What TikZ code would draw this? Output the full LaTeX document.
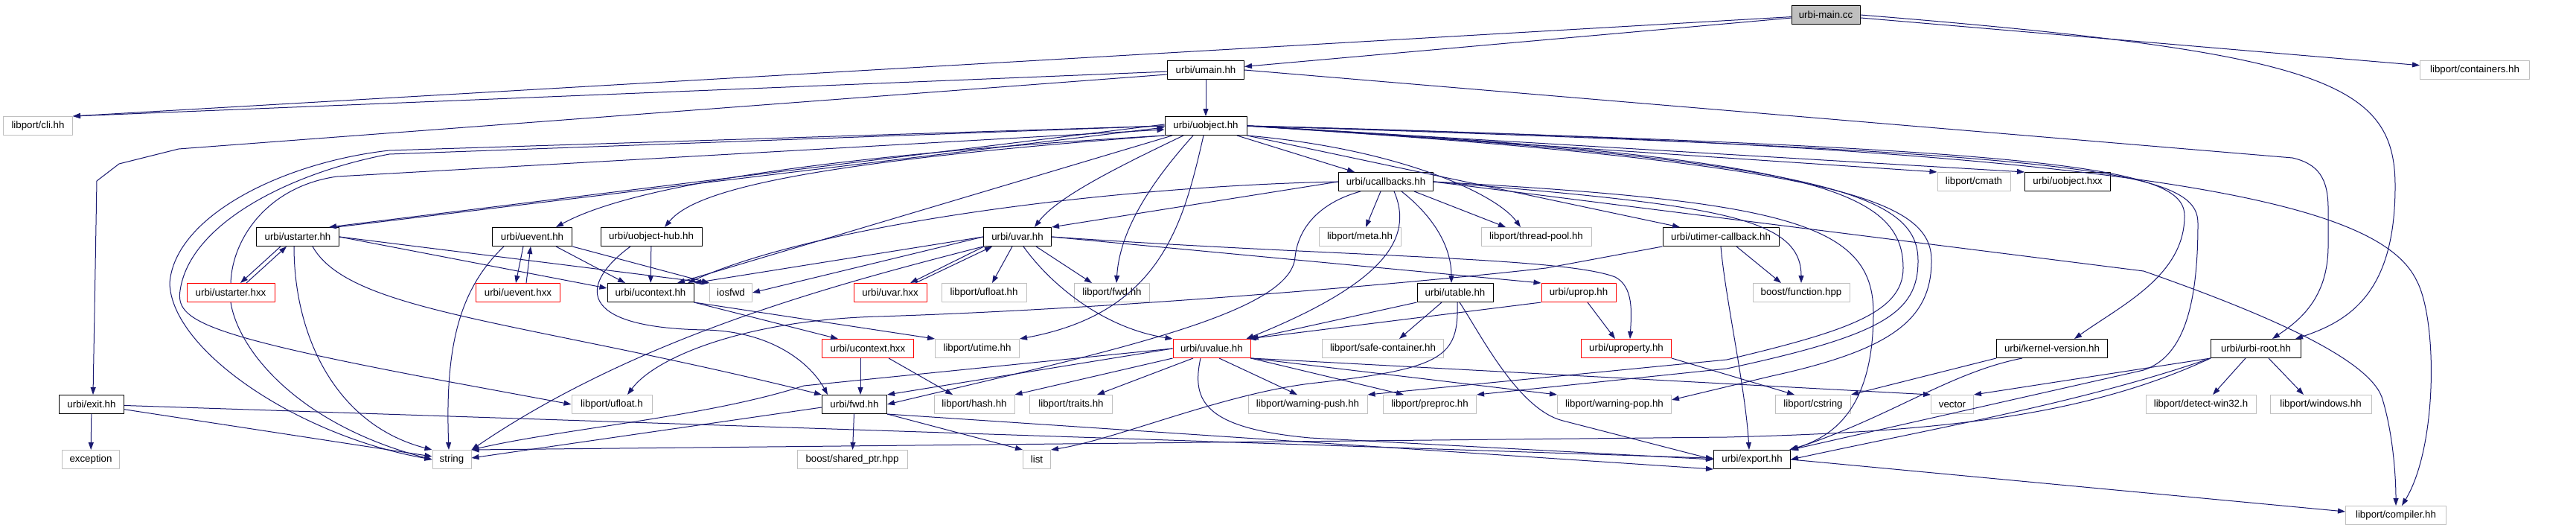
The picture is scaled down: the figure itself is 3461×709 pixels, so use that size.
\documentclass[tikz,border=0pt]{standalone}
\usepackage{fontspec}
\setmainfont{Liberation Sans}
\usetikzlibrary{arrows.meta,calc,positioning}
\definecolor{cEdge}{HTML}{191970}
\definecolor{cGray}{HTML}{BFBFBF}
\definecolor{cRed}{HTML}{FF0000}

\begin{document}
\begin{tikzpicture}[x=1pt,y=-1pt,>={Triangle[length=10pt,width=7pt]},
   line join=round,
   inc/.style={draw=black,line width=1pt,minimum height=25pt,inner sep=0pt,
     font=\fontsize{13.3pt}{16pt}\selectfont,text=black},
   sys/.style={inc,draw=cGray},
   bad/.style={inc,draw=cRed},
   cur/.style={inc,fill=cGray},
   dep/.style={cEdge,line width=1pt,->}]
  \useasboundingbox (0,0) rectangle (3461,709);
  \fill[white] (0,0) rectangle (3461,709);
  % rank 0-2
  \node[cur,minimum width=92pt] (main) at (2453,20) {urbi-main.cc};
  \node[inc,minimum width=103pt] (umain) at (1620,94) {urbi/umain.hh};
  \node[sys,minimum width=147pt] (containers) at (3325,94) {libport/containers.hh};
  \node[sys,minimum width=93pt] (cli) at (51,169) {libport/cli.hh};
  \node[inc,minimum width=110pt] (uobject) at (1620,169) {urbi/uobject.hh};
  % rank 3
  \node[inc,minimum width=127pt] (ucallbacks) at (1862,244) {urbi/ucallbacks.hh};
  \node[sys,minimum width=98pt] (cmath) at (2652,244) {libport/cmath};
  \node[inc,minimum width=115pt] (uobjhxx) at (2778,244) {urbi/uobject.hxx};
  % rank 4
  \node[inc,minimum width=111pt] (ustarter) at (400,318) {urbi/ustarter.hh};
  \node[inc,minimum width=107pt] (uevent) at (715,318) {urbi/uevent.hh};
  \node[inc,minimum width=136pt] (uobjhub) at (875,318) {urbi/uobject-hub.hh};
  \node[inc,minimum width=91pt] (uvar) at (1367,318) {urbi/uvar.hh};
  \node[sys,minimum width=110pt] (meta) at (1827,318) {libport/meta.hh};
  \node[sys,minimum width=148pt] (tpool) at (2064,318) {libport/thread-pool.hh};
  \node[inc,minimum width=156pt] (utimer) at (2312,318) {urbi/utimer-callback.hh};
  % rank 5
  \node[bad,minimum width=118pt] (ustarterhxx) at (310,393) {urbi/ustarter.hxx};
  \node[bad,minimum width=113pt] (ueventhxx) at (696,393) {urbi/uevent.hxx};
  \node[inc,minimum width=116pt] (ucontext) at (874,393) {urbi/ucontext.hh};
  \node[sys,minimum width=57pt] (iosfwd) at (982,393) {iosfwd};
  \node[bad,minimum width=98pt] (uvarhxx) at (1196,393) {urbi/uvar.hxx};
  \node[sys,minimum width=114pt] (ufloathh) at (1322,393) {libport/ufloat.hh};
  \node[sys,minimum width=101pt] (lpfwd) at (1494,393) {libport/fwd.hh};
  \node[inc,minimum width=102pt] (utable) at (1955,393) {urbi/utable.hh};
  \node[bad,minimum width=100pt] (uprop) at (2121,393) {urbi/uprop.hh};
  \node[sys,minimum width=130pt] (boostfn) at (2420,393) {boost/function.hpp};
  % rank 6
  \node[bad,minimum width=123pt] (ucontexthxx) at (1166,468) {urbi/ucontext.hxx};
  \node[sys,minimum width=113pt] (utime) at (1313,468) {libport/utime.hh};
  \node[bad,minimum width=104pt] (uvalue) at (1628,468) {urbi/uvalue.hh};
  \node[sys,minimum width=163pt] (safecont) at (1858,468) {libport/safe-container.hh};
  \node[bad,minimum width=121pt] (uproperty) at (2185,468) {urbi/uproperty.hh};
  \node[inc,minimum width=149pt] (kversion) at (2757,468) {urbi/kernel-version.hh};
  \node[inc,minimum width=121pt] (uroot) at (3031,468) {urbi/urbi-root.hh};
  % rank 7
  \node[inc,minimum width=87pt] (exit) at (123,543) {urbi/exit.hh};
  \node[sys,minimum width=108pt] (ufloath) at (822,543) {libport/ufloat.h};
  \node[inc,minimum width=87pt] (urbifwd) at (1148,543) {urbi/fwd.hh};
  \node[sys,minimum width=108pt] (hash) at (1309,543) {libport/hash.hh};
  \node[sys,minimum width=111pt] (traits) at (1439,543) {libport/traits.hh};
  \node[sys,minimum width=160pt] (wpush) at (1757,543) {libport/warning-push.hh};
  \node[sys,minimum width=125pt] (preproc) at (1921,543) {libport/preproc.hh};
  \node[sys,minimum width=153pt] (wpop) at (2169,543) {libport/warning-pop.hh};
  \node[sys,minimum width=101pt] (cstring) at (2436,543) {libport/cstring};
  \node[sys,minimum width=57pt] (vector) at (2623,543) {vector};
  \node[sys,minimum width=148pt] (win32) at (2957,543) {libport/detect-win32.h};
  \node[sys,minimum width=136pt] (windows) at (3118,543) {libport/windows.hh};
  % rank 8-9
  \node[sys,minimum width=77pt] (exception) at (122,617) {exception};
  \node[sys,minimum width=52pt] (string) at (607,617) {string};
  \node[sys,minimum width=148pt] (sharedptr) at (1145,617) {boost/shared\_ptr.hpp};
  \node[sys,minimum width=37pt] (list) at (1393,617) {list};
  \node[inc,minimum width=103pt] (export) at (2354,617) {urbi/export.hh};
  \node[sys,minimum width=135pt] (compiler) at (3219,692) {libport/compiler.hh};

  % urbi-main.cc
  \draw[dep] (main) -- (umain);
  \draw[dep] (main) -- (cli.north east);
  \draw[dep] (main) -- (containers);
  \draw[dep] (main.east) .. controls (3120,70) and (3218,110) .. (3218,250)
    .. controls (3218,390) and (3160,430) .. ([xshift=-8pt]uroot.north east);
  % urbi/umain.hh
  \draw[dep] (umain) -- (cli.north east);
  \draw[dep] ([yshift=-6pt]umain.west) -- (240,200) -- (160,220) -- (130,243) -- (127,420) -- ([xshift=2pt]exit.north);
  \draw[dep] (umain) -- (uobject);
  \draw[dep] (umain.east) -- (3080,212) .. controls (3115,220) and (3128,240) .. (3128,280)
    -- (3128,330) .. controls (3128,400) and (3090,430) .. ([xshift=22pt]uroot.north);
  % urbi/exit.hh
  \foreach \t in {exception,string,export} \draw[dep] (exit) -- (\t);
  % urbi/uobject.hh
  \draw[dep] (uobject) -- (ucallbacks);
  \draw[dep] (uobject.east) -- (cmath.north west);
  \draw[dep] (uobject.east) -- (uobjhxx.north west);
  \draw[dep] ([yshift=2pt]uobject.west) -- ([xshift=-14pt]ustarter.north east);
  \draw[dep] ([xshift=-4pt]ustarter.north east) -- ([yshift=-2pt]uobject.west);
  \draw[dep] (uobject.south west) .. controls (1000,215) and (820,265) .. ([xshift=32pt]uevent.north);
  \draw[dep] (uobject.south west) .. controls (1050,220) and (930,260) .. ([xshift=18pt]uobjhub.north);
  \draw[dep] ([xshift=-30pt]uobject.south) .. controls (1500,225) and (1420,265) .. ([xshift=23pt]uvar.north);
  \draw[dep] ([xshift=-45pt]uobject.south) -- ([xshift=36pt]ucontext.north);
  \draw[dep] (uobject.south east) .. controls (1880,200) and (2010,260) .. ([xshift=-21pt]tpool.north);
  \draw[dep] (uobject.south east) -- ([xshift=-55pt]utimer.north);
  \draw[dep] ([xshift=-17pt]uobject.south) .. controls (1560,230) and (1505,300) .. ([xshift=6pt]lpfwd.north);
  \draw[dep] ([xshift=-3pt]uobject.south) .. controls (1590,300) and (1560,420) .. (utime.north east);
  \draw[dep] (uobject.west) -- (523,202) .. controls (380,218) and (235,290) .. (228,380)
    .. controls (230,470) and (400,585) .. (string.west);
  \draw[dep] (uobject.west) -- (523,207) .. controls (390,232) and (255,300) .. (242,390)
    .. controls (236,430) and (270,450) .. (600,512) -- (ufloath.west);
  \draw[dep] (uobject.east) .. controls (2420,210) and (2557,250) .. (2557,360)
    .. controls (2557,420) and (2480,445) .. (2320,483) -- (wpush.north east);
  \draw[dep] (uobject.east) .. controls (2450,215) and (2577,260) .. (2577,350)
    .. controls (2577,420) and (2530,450) .. (2320,495) -- (preproc.north east);
  \draw[dep] (uobject.east) .. controls (2480,220) and (2595,270) .. (2595,350)
    .. controls (2595,430) and (2540,470) .. (2380,505) -- ([yshift=6pt]wpop.east);
  \draw[dep] (uobject.east) .. controls (2780,200) and (2935,225) .. (2935,290)
    .. controls (2935,370) and (2850,410) .. ([xshift=30pt]kversion.north);
  \draw[dep] (uobject.east) .. controls (2820,205) and (2953,230) .. (2953,300)
    .. controls (2953,420) and (2930,480) .. (2880,497) -- (export.north east);
  \draw[dep] (uobject.east) .. controls (2950,200) and (3200,280) .. (3247,377)
    .. controls (3275,430) and (3275,600) .. ([xshift=8pt]compiler.north);
  % urbi/ustarter.hh
  \draw[dep] ([xshift=-23pt]ustarter.south) -- ([xshift=13pt]ustarterhxx.north);
  \draw[dep] ([xshift=21pt]ustarterhxx.north) -- ([xshift=-15pt]ustarter.south);
  \draw[dep] ([xshift=-5pt]ustarter.south) .. controls (395,450) and (450,570) .. (string.north west);
  \draw[dep] (ustarter.east) -- ([yshift=6pt]ucontext.west);
  \draw[dep] (ustarter.east) -- (iosfwd.north west);
  \draw[dep] ([xshift=20pt]ustarter.south) .. controls (470,420) and (700,430) .. (urbifwd.north west);
  % urbi/ustarter.hxx
  \draw[dep] (ustarterhxx.north) .. controls (312,320) and (360,250) .. (453,237) -- ([yshift=-5pt]uobject.west);
  \draw[dep] (ustarterhxx.south) .. controls (320,470) and (400,570) .. (string.west);
  % urbi/uevent.hh
  \draw[dep] ([xshift=-12pt]uevent.south) -- ([xshift=-3pt]ueventhxx.north);
  \draw[dep] ([xshift=11pt]ueventhxx.north) -- ([xshift=-2pt]uevent.south);
  \draw[dep] ([xshift=-38pt]uevent.south) .. controls (615,390) and (598,470) .. ([xshift=-4pt]string.north);
  \draw[dep] ([xshift=32pt]uevent.south) -- ([xshift=-34pt]ucontext.north);
  \draw[dep] (uevent.south east) -- (iosfwd.north west);
  % urbi/uobject-hub.hh
  \draw[dep] (uobjhub) -- (ucontext);
  \draw[dep] ([xshift=-28pt]uobjhub.south) .. controls (780,380) and (770,440) .. (947,443)
    .. controls (1040,445) and (1090,490) .. ([xshift=-36pt]urbifwd.north);
  % urbi/ucontext.hh
  \draw[dep] (ucontext.south east) -- ([xshift=-40pt]ucontexthxx.north);
  \draw[dep] (ucontext.south east) -- (utime.north west);
  % urbi/uvar.hh
  \draw[dep] ([xshift=-45pt]uvar.south) -- ([xshift=27pt]uvarhxx.north);
  \draw[dep] ([xshift=34pt]uvarhxx.north) -- ([xshift=-34pt]uvar.south);
  \draw[dep] ([xshift=-7pt]uvar.south) -- ([xshift=11pt]ufloathh.north);
  \draw[dep] ([xshift=25pt]uvar.south) -- ([xshift=-27pt]lpfwd.north);
  \draw[dep] ([xshift=8pt]uvar.south) .. controls (1410,380) and (1480,440) .. (uvalue.north west);
  \draw[dep] (uvar.west) -- (iosfwd.east);
  \draw[dep] (uvar.west) -- (ucontext.north east);
  \draw[dep] (uvar.south west) .. controls (1130,380) and (860,450) .. (string.north east);
  \draw[dep] (uvar.east) -- (uprop.north west);
  \draw[dep] (uvar.east) .. controls (1800,345) and (2100,345) .. (2170,372)
    .. controls (2195,385) and (2192,420) .. ([xshift=5pt]uproperty.north);
  % urbi/ucallbacks.hh
  \draw[dep] ([xshift=-7pt]ucallbacks.south) -- ([xshift=8pt]meta.north);
  \draw[dep] ([xshift=38pt]ucallbacks.south) -- ([xshift=-41pt]tpool.north);
  \draw[dep] ([xshift=21pt]ucallbacks.south) .. controls (1925,290) and (1950,330) .. ([xshift=-5pt]utable.north);
  \draw[dep] ([xshift=11pt]ucallbacks.south) .. controls (1900,320) and (1860,380) .. ([xshift=-6pt]uvalue.north east);
  \draw[dep] (ucallbacks.west) -- (uvar.north east);
  \draw[dep] (ucallbacks.west) .. controls (1500,250) and (1100,300) .. ([xshift=50pt]ucontext.north);
  \draw[dep] ([xshift=-34pt]ucallbacks.south) .. controls (1780,270) and (1745,300) .. (1740,345)
    .. controls (1735,420) and (1500,470) .. (urbifwd.east);
  \draw[dep] (ucallbacks.east) .. controls (2300,275) and (2420,290) .. (boostfn.north);
  \draw[dep] (ucallbacks.east) .. controls (2400,270) and (2517,300) .. (2517,420)
    .. controls (2517,540) and (2470,585) .. ([xshift=-2pt]export.north east);
  \draw[dep] (ucallbacks.east) -- (2880,364) .. controls (3040,420) and (3180,480) .. (3200,533)
    .. controls (3215,580) and (3219,640) .. (compiler.north);
  % urbi/utimer-callback.hh
  \draw[dep] ([xshift=21pt]utimer.south) -- ([xshift=-27pt]boostfn.north);
  \draw[dep] (utimer.south) .. controls (2318,400) and (2345,520) .. ([xshift=-4pt]export.north);
  \draw[dep] (utimer.south west) -- (2077,360) .. controls (1900,380) and (1500,415) .. (1180,425)
    .. controls (1000,430) and (880,480) .. ([xshift=21pt]ufloath.north);
  % urbi/utable.hh
  \draw[dep] (utable.south west) -- (uvalue.north east);
  \draw[dep] ([xshift=-18pt]utable.south) -- ([xshift=22pt]safecont.north);
  \draw[dep] ([xshift=6pt]utable.south) .. controls (1990,450) and (2040,550) .. (2100,565) -- (export.west);
  \draw[dep] ([xshift=3pt]utable.south) .. controls (1960,480) and (1940,495) .. (1760,515)
    .. controls (1640,530) and (1500,590) .. (list.north east);
  % urbi/uprop.hh, urbi/uproperty.hh
  \draw[dep] ([xshift=12pt]uprop.south) -- ([xshift=-15pt]uproperty.north);
  \draw[dep] (uprop.south west) -- ([xshift=-3pt]uvalue.north east);
  \draw[dep] (uproperty.south east) -- ([xshift=-25pt]cstring.north);
  % urbi/uvalue.hh
  \draw[dep] (uvalue.south west) -- (hash.north east);
  \draw[dep] ([xshift=-25pt]uvalue.south) -- ([xshift=35pt]traits.north);
  \draw[dep] ([xshift=10pt]uvalue.south) -- ([xshift=-14pt]wpush.north);
  \draw[dep] (uvalue.south east) -- ([xshift=-35pt]preproc.north);
  \draw[dep] (uvalue.south east) -- (wpop.north west);
  \draw[dep] (uvalue.south east) -- (vector.north west);
  \draw[dep] (uvalue.west) -- (urbifwd.north east);
  \draw[dep] (uvalue.west) -- (1080,518) .. controls (950,560) and (760,575) .. (string.north east);
  \draw[dep] ([xshift=-15pt]uvalue.south) .. controls (1600,540) and (1620,575) .. (1760,588) -- (export.west);
  % urbi/kernel-version.hh
  \draw[dep] (kversion.south west) -- (cstring.north east);
  \draw[dep] ([xshift=-40pt]kversion.south) .. controls (2620,500) and (2540,560) .. (export.north east);
  % urbi/urbi-root.hh
  \draw[dep] ([xshift=-14pt]uroot.south) -- ([xshift=16pt]win32.north);
  \draw[dep] ([xshift=17pt]uroot.south) -- ([xshift=-23pt]windows.north);
  \draw[dep] (uroot.south west) -- (vector.north east);
  \draw[dep] (uroot.south west) .. controls (2800,540) and (2600,575) .. (export.east);
  \draw[dep] (uroot.south west) .. controls (2800,560) and (2600,580) .. (2320,587) -- (string.north east);
  % urbi/fwd.hh, urbi/ucontext.hxx, urbi/export.hh
  \draw[dep] (urbifwd) -- (sharedptr);
  \draw[dep] ([yshift=-4pt]urbifwd.west) -- ([yshift=2pt]string.east);
  \draw[dep] (urbifwd.south east) -- (list.north west);
  \draw[dep] (urbifwd.south east) -- (export.south west);
  \draw[dep] ([xshift=-10pt]ucontexthxx.south) -- ([xshift=8pt]urbifwd.north);
  \draw[dep] ([xshift=28pt]ucontexthxx.south) -- ([xshift=-29pt]hash.north);
  \draw[dep] (export.east) -- ([yshift=5pt]compiler.west);
\end{tikzpicture}
\end{document}
